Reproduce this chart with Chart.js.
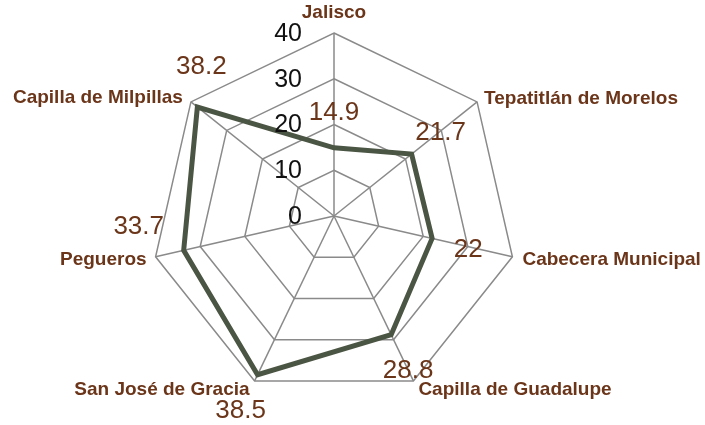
<!DOCTYPE html>
<html>
<head>
<meta charset="utf-8">
<script src="https://cdn.jsdelivr.net/npm/chart.js@4"></script>
<style>
  html, body { margin: 0; padding: 0; background: #fff; }
  #wrap { width: 705px; height: 425px; }
</style>
</head>
<body>
<div id="wrap"><canvas id="radarChart"></canvas></div>
<script>
  // data
  const categories = ['Jalisco', 'Tepatitlán de Morelos', 'Cabecera Municipal', 'Capilla de Guadalupe',
    'San José de Gracia', 'Pegueros', 'Capilla de Milpillas'];
  const values = [14.9, 21.7, 22, 28.8, 38.5, 33.7, 38.2];
  const tickValues = [0, 10, 20, 30, 40];

  // where each text sits relative to its point (px)
  const valueOffsets = [[0, -35], [29, -21], [36, 11], [17, 36], [-17, 36], [-45, -23], [4, -40]];
  const nameOffsets = [[0, -20, 'center'], [7, -3, 'left'], [10, 3, 'left'], [5, 9, 'left'],
    [-5, 9, 'right'], [-9, 3, 'right'], [-8, -4, 'right']];

  const BROWN = '#6b3519';

  /*
  | text drawn from the radial scale
  */
  const radarText = {
    id: 'radarText',
    afterDatasetsDraw(chart) {
      const ctx = chart.ctx;
      const r = chart.scales.r;
      ctx.save();
      ctx.textBaseline = 'middle';

      // tick labels, just left of the top axis
      ctx.fillStyle = '#111';
      ctx.font = '25px "Liberation Sans", Arial, sans-serif';
      ctx.textAlign = 'right';
      tickValues.forEach(v => {
        const d = r.getDistanceFromCenterForValue(v);
        ctx.fillText(String(v), r.xCenter - 32, r.yCenter - d + 1);
      });

      // category names
      ctx.fillStyle = BROWN;
      ctx.font = 'bold 19px "Liberation Sans", Arial, sans-serif';
      categories.forEach((name, i) => {
        const p = r.getPointPositionForValue(i, r.max);
        const o = nameOffsets[i];
        ctx.textAlign = o[2];
        ctx.fillText(name, p.x + o[0], p.y + o[1]);
      });

      // values
      ctx.font = '26px "Liberation Sans", Arial, sans-serif';
      ctx.textAlign = 'center';
      values.forEach((v, i) => {
        const p = r.getPointPositionForValue(i, v);
        const o = valueOffsets[i];
        ctx.fillText(String(v), p.x + o[0], p.y + o[1]);
      });
      ctx.restore();
    }
  };

  new Chart(document.getElementById('radarChart'), {
    type: 'radar',
    data: {
      labels: categories,
      datasets: [{
        data: values,
        fill: false,
        borderColor: '#4b5543',
        borderWidth: 5,
        pointRadius: 0,
        tension: 0
      }]
    },
    options: {
      responsive: true,
      maintainAspectRatio: false,
      animation: false,
      layout: { padding: { top: 33, bottom: 26, left: 0, right: 37 } },
      plugins: { legend: { display: false }, tooltip: { enabled: false } },
      scales: {
        r: {
          min: 0,
          max: 40,
          ticks: { stepSize: 10, display: false },
          grid: { color: '#8a8a8a', lineWidth: 1.5 },
          angleLines: { color: '#8a8a8a', lineWidth: 1.5 },
          pointLabels: { display: false }
        }
      }
    },
    plugins: [radarText]
  });
</script>
</body>
</html>
